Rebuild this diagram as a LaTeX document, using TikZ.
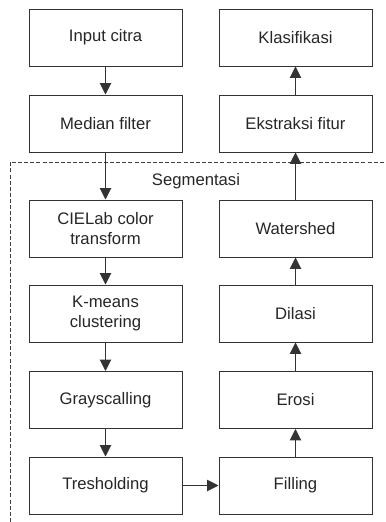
\documentclass[tikz,border=0pt]{standalone}
\usepackage{fontspec}
\setmainfont{Liberation Sans}
\usetikzlibrary{arrows.meta}

\begin{document}
\begin{tikzpicture}[x=0.75pt,y=-0.75pt,
    box/.style={draw=black!80,line width=0.75pt,minimum width=114.75pt,minimum height=42.75pt,
      align=center,inner sep=2pt,font=\fontsize{12.5}{15}\selectfont,text=black!85},
    flow/.style={draw=black!80,line width=0.75pt,-{Triangle[width=8.5pt,length=8.5pt]}}]

            \useasboundingbox (0,0) rectangle (386,522);

            \node[box] (input) at (105.5,37.5) {Input citra};
            \node[box] (median) at (105.5,123.5) {Median filter};
            \node[box] (cielab) at (105.5,228.5) {CIELab color\\transform};
            \node[box] (kmeans) at (105.5,313.5) {K-means\\clustering};
            \node[box] (gray) at (105.5,400) {Grayscalling};
            \node[box] (tresh) at (105.5,485.5) {Tresholding};

            \node[box] (fill) at (295.5,485.5) {Filling};
            \node[box] (erosi) at (295.5,400) {Erosi};
            \node[box] (dilasi) at (295.5,313.5) {Dilasi};
            \node[box] (water) at (295.5,228.5) {Watershed};
            \node[box] (ekstraksi) at (295.5,123.5) {Ekstraksi fitur};
            \node[box] (klas) at (295.5,37.5) {Klasifikasi};

            % area segmentasi
            \draw[black!75,line width=0.6pt,dash pattern=on 3pt off 1.6pt] (10,522) -- (10,162) -- (386,162);
            \node[font=\fontsize{12.5}{15}\selectfont,text=black!85] (seg) at (196,181) {Segmentasi};

            \draw[flow] (input) -- (median);
            \draw[flow] (median) -- (cielab);
            \draw[flow] (cielab) -- (kmeans);
            \draw[flow] (kmeans) -- (gray);
            \draw[flow] (gray) -- (tresh);
            \draw[flow] (tresh) -- (fill);
            \draw[flow] (fill) -- (erosi);
            \draw[flow] (erosi) -- (dilasi);
            \draw[flow] (dilasi) -- (water);
            \draw[flow] (water) -- (ekstraksi);
            \draw[flow] (ekstraksi) -- (klas);

          \end{tikzpicture}
\end{document}
